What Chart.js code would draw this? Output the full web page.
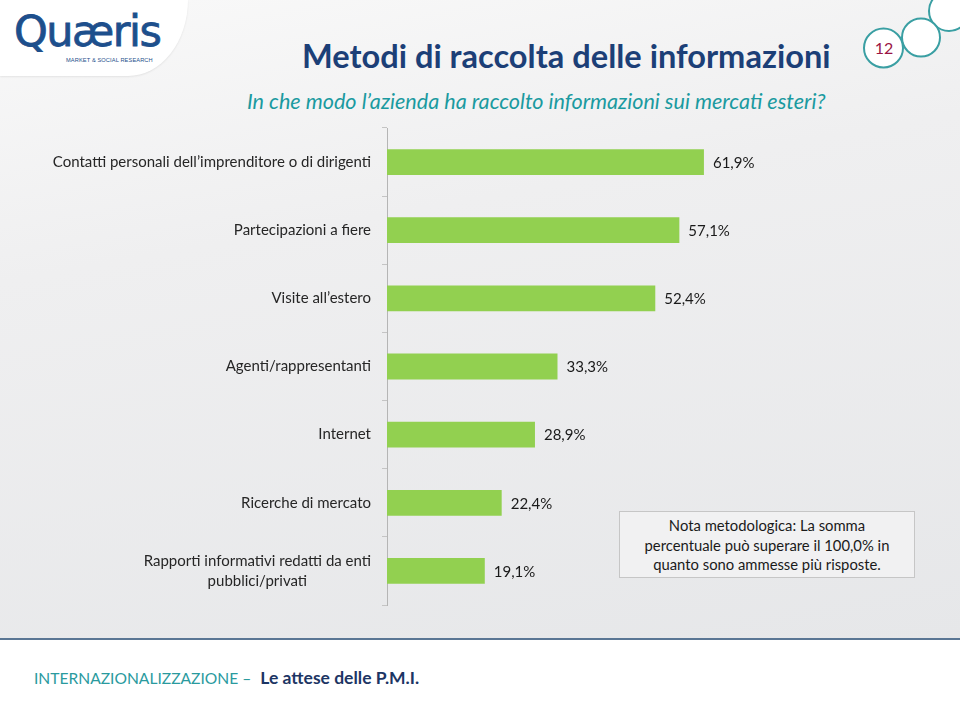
<!DOCTYPE html>
<html>
<head>
<meta charset="utf-8">
<script src="https://cdn.jsdelivr.net/npm/chart.js@4.4.1/dist/chart.umd.min.js"></script>
<style>
  html, body { margin: 0; padding: 0; }
  body { width: 960px; height: 720px; position: relative; overflow: hidden; font-family: Lato, 'Open Sans', sans-serif; }
  #slide { position: absolute; left: 0; top: 0; width: 960px; height: 638px;
    background: linear-gradient(170deg, #f9f9f9 0%, #efeff0 35%, #e6e7e9 100%); }
  #footer { position: absolute; left: 0; top: 638px; width: 960px; height: 82px; background: #fff;
    border-top: 2px solid #5a7694; }
  #footer .txt { position: absolute; left: 34px; top: 27px; white-space: nowrap; }
  #footer .a { color: #2a9a9e; font-size: 15.6px; }
  #footer .b { color: #1c3564; font-weight: bold; margin-left: 9px; font-size: 17.5px; }
  #logoBg { position: absolute; left: 0; top: 0; width: 188px; height: 76px; background: #fff;
    border-bottom-right-radius: 60px 76px; box-shadow: 0 1px 2px rgba(0,0,0,0.08); }
  #logo { position: absolute; left: 14px; top: 6px; font-size: 43px; color: #1d4f8c; letter-spacing: -1.5px;
    font-family: 'DejaVu Sans', sans-serif; -webkit-text-stroke: 0.8px #1d4f8c; }
  #logoSub { position: absolute; left: 66px; top: 57px; font-size: 5.7px; color: #1d4f8c; font-family: 'Liberation Sans', sans-serif; letter-spacing: 0.1px; }
  #title { position: absolute; left: 302px; top: 36px; font-size: 32.6px; font-weight: bold; color: #1c3f77; white-space: nowrap; }
  #subtitle { position: absolute; left: 247px; top: 88px; font-size: 21.6px; font-style: italic; color: #1a9aa0; white-space: nowrap; }
  #note { position: absolute; left: 619px; top: 511px; width: 296px; height: 67px; border: 1px solid #c6c6c6;
    background: #f1f1f2; text-align: center; font-size: 14.8px; line-height: 19.5px; color: #1a1a1a; padding-top: 4px; box-sizing: border-box; }
  #circles { position: absolute; left: 0; top: 0; }
  #chartWrap { position: absolute; left: 0; top: 0; width: 960px; height: 720px; }
</style>
</head>
<body>
<div id="slide"></div>
<div id="logoBg"></div>
<div id="logo">Quæris</div>
<div id="logoSub">MARKET &amp; SOCIAL RESEARCH</div>
<svg id="circles" width="960" height="90">
  <circle cx="949" cy="11" r="20" fill="#fff" stroke="#3a9fa3" stroke-width="2"/>
  <circle cx="921" cy="37.5" r="19" fill="#fff" stroke="#3a9fa3" stroke-width="2"/>
  <circle cx="883.5" cy="48" r="19.5" fill="#fff" stroke="#3a9fa3" stroke-width="2"/>
  <text x="884" y="54" text-anchor="middle" font-family="Lato, sans-serif" font-size="16" fill="#9b1444">12</text>
</svg>
<div id="title">Metodi di raccolta delle informazioni</div>
<div id="subtitle">In che modo l’azienda ha raccolto informazioni sui mercati esteri?</div>
<div id="footer"><div class="txt"><span class="a">INTERNAZIONALIZZAZIONE –</span><span class="b">Le attese delle P.M.I.</span></div></div>
<div id="chartWrap"><canvas id="chart" width="960" height="720"></canvas></div>
<div id="note">Nota metodologica: La somma<br>percentuale può superare il 100,0% in<br>quanto sono ammesse più risposte.</div>
<script>
const categories = [
  ['Contatti personali dell’imprenditore o di dirigenti'],
  ['Partecipazioni a fiere'],
  ['Visite all’estero'],
  ['Agenti/rappresentanti'],
  ['Internet'],
  ['Ricerche di mercato'],
  ['Rapporti informativi redatti da enti', 'pubblici/privati']
];
const values = [61.9, 57.1, 52.4, 33.3, 28.9, 22.4, 19.1];

const labelFont = '15px Lato, "Open Sans", sans-serif';

function fmt(v) {
  return v.toFixed(1).replace('.', ',') + '%';
}

// category labels: block right-aligned, lines centred inside the block
const catLabels = {
  id: 'catLabels',
  afterDraw(chart) {
    const ctx = chart.ctx;
    const y = chart.scales.y;
    ctx.save();
    ctx.font = labelFont;
    ctx.fillStyle = '#262626';
    ctx.textBaseline = 'middle';
    ctx.textAlign = 'center';
    const right = y.right - 16;
    categories.forEach((lines, i) => {
      const cy = y.getPixelForValue(i);
      const w = Math.max(...lines.map(l => ctx.measureText(l).width));
      const lh = 19.5;
      lines.forEach((l, j) => {
        ctx.fillText(l, right - w / 2, cy + (j - (lines.length - 1) / 2) * lh);
      });
    });
    ctx.restore();
  }
};

const valueLabels = {
  id: 'valueLabels',
  afterDatasetsDraw(chart) {
    const ctx = chart.ctx;
    const meta = chart.getDatasetMeta(0);
    ctx.save();
    ctx.font = labelFont;
    ctx.fillStyle = '#1a1a1a';
    ctx.textBaseline = 'middle';
    ctx.textAlign = 'left';
    meta.data.forEach((bar, i) => {
      ctx.fillText(fmt(values[i]), bar.x + 9, bar.y + 1);
    });
    ctx.restore();
  }
};

new Chart(document.getElementById('chart'), {
  type: 'bar',
  data: {
    labels: categories,
    datasets: [{
      data: values,
      backgroundColor: '#92d050',
      borderWidth: 0,
      barPercentage: 0.9,
      categoryPercentage: 0.42
    }]
  },
  options: {
    indexAxis: 'y',
    responsive: false,
    animation: false,
    layout: { padding: { top: 128, bottom: 115, left: 0, right: 61 } },
    plugins: { legend: { display: false }, tooltip: { enabled: false } },
    scales: {
      x: { display: false, min: 0, max: 100 },
      y: {
        afterFit(scale) { scale.width = 387; },
        ticks: { display: false },
        grid: { drawOnChartArea: false, drawTicks: true, tickLength: 5, color: '#c4c4c4', offset: true },
        border: { color: '#b5b5b5', width: 1 }
      }
    }
  },
  plugins: [catLabels, valueLabels]
});
</script>
</body>
</html>
